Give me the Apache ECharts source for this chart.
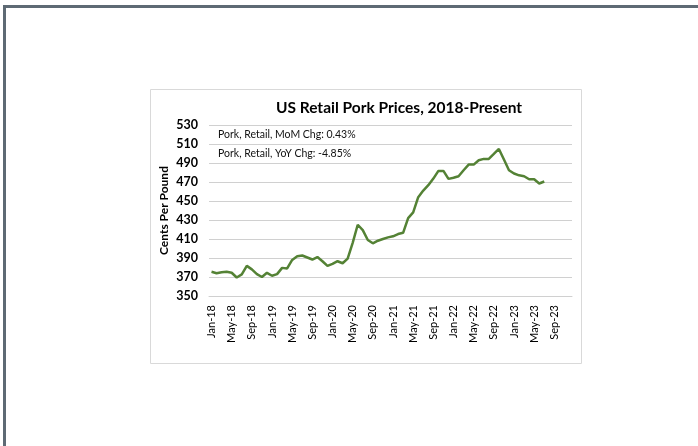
<!DOCTYPE html>
<html><head><meta charset="utf-8">
<script src="https://cdn.jsdelivr.net/npm/echarts@6/dist/echarts.min.js"></script>
<style>html,body{margin:0;padding:0;background:#fff;}#c{width:698px;height:446px;}</style>
</head><body><div id="c"></div>
<script>
var monthNames = ['Jan','Feb','Mar','Apr','May','Jun','Jul','Aug','Sep','Oct','Nov','Dec'];
var years = ['18','19','20','21','22','23'];
var categories = [];
years.forEach(function(y){ monthNames.forEach(function(m){ categories.push(m + '-' + y); }); });

var porkPrice = [
  375.5, 374, 375, 375.5, 374.5, 369.5, 372.7, 381.7, 378, 373, 370, 374.4,
  371.3, 373, 379.6, 379, 388, 391.9, 392.6, 390.5, 388.4, 391, 386.6, 381.7,
  383.8, 386.6, 384.5, 389.4, 406, 425, 419.4, 409, 405.5, 408.2, 410, 411.7,
  412.8, 415.2, 416.5, 432, 438, 454, 461, 466.6, 473.6, 481.7, 481.7, 473.3,
  474.5, 476.1, 482.4, 488.3, 488.3, 492.9, 494.3, 494.3, 499.5, 504.8, 493.6, 482.4,
  478.9, 477, 476.1, 472.9, 472.9, 468.4, 470.5
];
var titleText = 'US Retail Pork Prices, 2018-Present';
var noteLines = ['Pork, Retail, MoM Chg: 0.43%', 'Pork, Retail, YoY Chg: -4.85%'];
var yAxisName = 'Cents Per Pound';

var chart = echarts.init(document.getElementById('c'), null, {renderer:'canvas'});
var FONT = 'Lato';
chart.setOption({
  animation: false,
  textStyle: {fontFamily: FONT},
  graphic: [
    {type:'rect', shape:{x:3, y:5, width:700, height:3}, style:{fill:'#5e6a74'}, silent:true},
    {type:'rect', shape:{x:3, y:5, width:3, height:450}, style:{fill:'#5e6a74'}, silent:true},
    {type:'rect', shape:{x:150.5, y:89.5, width:431, height:274}, style:{fill:'none', stroke:'#d9d9d9', lineWidth:1}, silent:true},
    {type:'text', x:399, y:108, style:{text:titleText, font:'bold 15.5px ' + FONT, fill:'#000', align:'center', verticalAlign:'middle'}},
    {type:'text', x:218, y:135, style:{text:noteLines[0], font:'10.5px ' + FONT, fill:'#111', align:'left', verticalAlign:'middle'}},
    {type:'text', x:218, y:154, style:{text:noteLines[1], font:'10.5px ' + FONT, fill:'#111', align:'left', verticalAlign:'middle'}}
  ],
  grid: {left:209, top:125, width:363, height:171, containLabel:false},
  xAxis: {
    type:'category', data: categories, boundaryGap:true,
    axisLine:{show:true, lineStyle:{color:'#d0d0d0', width:1}},
    axisTick:{show:false},
    axisLabel:{interval:3, rotate:90, fontSize:11, color:'#000', margin:9, fontFamily:FONT},
    splitLine:{show:false}
  },
  yAxis: {
    type:'value', min:350, max:530, interval:20,
    name: yAxisName, nameLocation:'middle', nameGap:39, nameRotate:90, nameMoveOverlap:false,
    nameTextStyle:{fontSize:12, fontWeight:'bold', color:'#000', fontFamily:FONT},
    axisLine:{show:false}, axisTick:{show:false},
    axisLabel:{fontSize:12.5, fontWeight:'bold', color:'#000', margin:11, fontFamily:FONT},
    splitLine:{lineStyle:{color:'#d0d0d0', width:1}}
  },
  series: [{
    type:'line', data: porkPrice, symbol:'none', smooth:false,
    lineStyle:{color:'#548235', width:2.5}
  }]
});
</script></body></html>
